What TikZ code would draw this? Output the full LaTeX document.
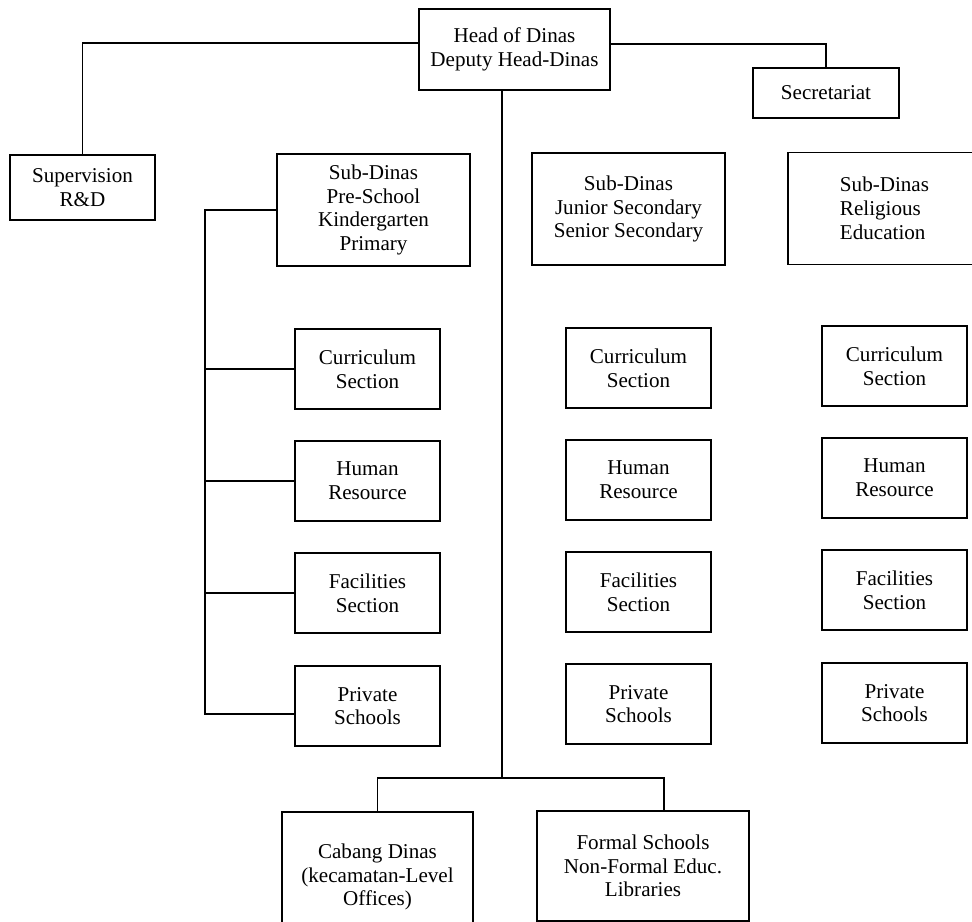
\documentclass[tikz,border=0pt]{standalone}
\usepackage{fontspec}
\setmainfont{Liberation Serif}

\begin{document}
\begin{tikzpicture}[x=0.2mm,y=-0.2mm]
                \tikzset{Box/.style={draw,line width=1pt,align=center,inner sep=2pt,font=\fontsize{12}{13.5}\selectfont},
                         SubBox/.style={Box,minimum width=38.6mm,minimum height=22.4mm},
                         SectBox/.style={Box,minimum width=29mm,minimum height=16mm},
                         Link/.style={line width=1pt}}
                \useasboundingbox (0,0) rectangle (972,922);
                \node[Box,minimum width=38.2mm,minimum height=16.2mm] (Head) at (514.5,49.5) {Head of Dinas\\Deputy Head-Dinas};
                \node[Box,minimum width=29mm,minimum height=13mm] (Sup) at (82.5,187.5) {Supervision\\R\&D};
                \node[Box,minimum width=29.2mm,minimum height=10mm] (Sec) at (826,93) {Secretariat};
                \node[SubBox] (SubA) at (373.5,210) {Sub-Dinas\\Pre-School\\Kindergarten\\Primary};
                \node[SubBox] (SubB) at (628.5,209) {Sub-Dinas\\Junior Secondary\\Senior Secondary};
                \node[SubBox,align=left] (SubC) at (884.5,208.5) {Sub-Dinas\\Religious\\Education};
                \node[SectBox] (CurA) at (367.5,369) {Curriculum\\Section};
                \node[SectBox] (HrA) at (367.5,481) {Human\\Resource};
                \node[SectBox] (FacA) at (367.5,593) {Facilities\\Section};
                \node[SectBox] (PrivA) at (367.5,706) {Private\\Schools};
                \node[SectBox] (CurB) at (638.5,368) {Curriculum\\Section};
                \node[SectBox] (HrB) at (638.5,480) {Human\\Resource};
                \node[SectBox] (FacB) at (638.5,592) {Facilities\\Section};
                \node[SectBox] (PrivB) at (638.5,704) {Private\\Schools};
                \node[SectBox] (CurC) at (894.5,366) {Curriculum\\Section};
                \node[SectBox] (HrC) at (894.5,478) {Human\\Resource};
                \node[SectBox] (FacC) at (894.5,590) {Facilities\\Section};
                \node[SectBox] (PrivC) at (894.5,703) {Private\\Schools};
                \node[Box,minimum width=38.2mm,minimum height=26mm] (Cab) at (377.5,877) {Cabang Dinas\\(kecamatan-Level\\Offices)};
                \node[Box,minimum width=42.4mm,minimum height=22mm] (Formal) at (643,866) {Formal Schools\\Non-Formal Educ.\\Libraries};
                \coordinate (Rail) at (205,0);
                \coordinate (Trunk) at (502,778);
                \draw[Link] (Head.west |- 0,43) -| (Sup.north);
                \draw[Link] (Head.east |- 0,44) -| (Sec.north);
                \draw[Link] (Head.south -| Trunk) -- (Trunk);
                \draw[Link] (Cab.north) |- (Trunk) -| ([xshift=4.2mm]Formal.north);
                \draw[Link] (SubA.west) -| (Rail |- 0,714) -- ([yshift=-1.6mm]PrivA.west);
                \draw[Link] (Rail |- CurA.west) -- (CurA.west);
                \draw[Link] (Rail |- HrA.west) -- (HrA.west);
                \draw[Link] (Rail |- FacA.west) -- (FacA.west);
            \end{tikzpicture}
\end{document}
